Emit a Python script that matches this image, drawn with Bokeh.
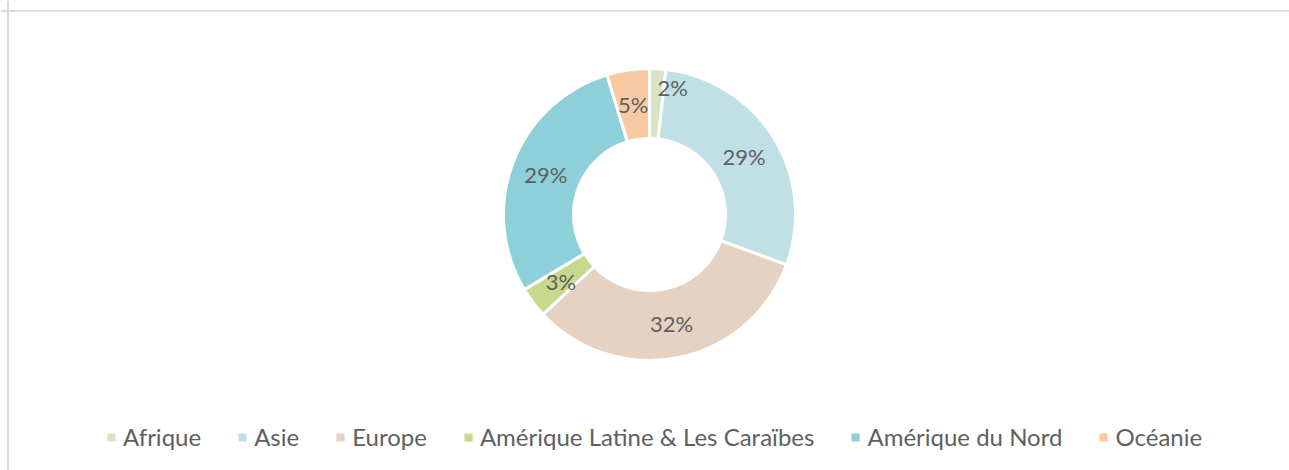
import numpy as np
from bokeh.plotting import figure
from bokeh.models import ColumnDataSource, Range1d, Legend, LegendItem, Span
from bokeh.core.properties import value
from bokeh.embed import file_html
from bokeh.resources import INLINE

# Data
categories = ["Afrique", "Asie", "Europe", "Amérique Latine & Les Caraïbes", "Amérique du Nord", "Océanie"]
shares = [1.8, 28.8, 32.4, 3.4, 28.9, 4.7]
colors = ["#D9E3C4", "#C0E0E6", "#E5D2C3", "#C6D98C", "#8ED0DA", "#F8C9A2"]

FONT = "Lato"

W, H = 1289, 470
p = figure(width=W, height=H, output_backend="svg", toolbar_location=None,
           x_range=Range1d(0, W), y_range=Range1d(0, H), min_border=0)
p.axis.visible = False
p.grid.visible = False
p.outline_line_color = None
p.background_fill_color = "white"
p.border_fill_color = "white"

cx, cy = 649, 256
r_out, r_in = 146, 76

vals = np.array(shares, dtype=float)
frac = vals / vals.sum()
cum = np.concatenate([[0], np.cumsum(frac)])
# clockwise from 12 o'clock
start = np.pi / 2 - cum[:-1] * 2 * np.pi
end = np.pi / 2 - cum[1:] * 2 * np.pi
mid = (start + end) / 2
r_mid = (r_out + r_in) / 2
lx = cx + r_mid * np.cos(mid)
ly = cy + r_mid * np.sin(mid)
labels = [f"{round(v)}%" for v in frac * 100]
xoff = [17, 0, 0, 0, 0, 0]
yoff = [-16, 0, 0, 0, 0, 0]

src = ColumnDataSource(dict(cat=categories, start=start, end=end, color=colors,
                            lx=lx, ly=ly, lab=labels, xo=xoff, yo=yoff))

items = []
for i, c in enumerate(categories):
    r = p.annular_wedge(x=cx, y=cy, inner_radius=r_in, outer_radius=r_out,
                        start_angle=start[i], end_angle=end[i], direction="clock",
                        fill_color=colors[i], line_color="white", line_width=3)
    items.append(LegendItem(label=c, renderers=[r]))

p.text(x="lx", y="ly", text="lab", source=src, text_align="center", text_baseline="middle",
       x_offset="xo", y_offset="yo",
       text_font=value(FONT), text_font_size="22px", text_color="#5f5f5f")

legend = Legend(items=items, orientation="horizontal", location=(104, 19),
                glyph_width=14, glyph_height=14, label_standoff=5, spacing=34,
                label_text_font=FONT, label_text_font_size="24px",
                label_text_color="#5f5f5f", border_line_color=None,
                background_fill_alpha=0, padding=0, margin=0)
p.add_layout(legend, "center")

p.add_layout(Span(location=7.5, dimension="height", line_color="#dcdcdc", line_width=2))
p.add_layout(Span(location=H - 10.5, dimension="width", line_color="#dcdcdc", line_width=2))

open("out.html", "w").write(file_html(p, INLINE))
